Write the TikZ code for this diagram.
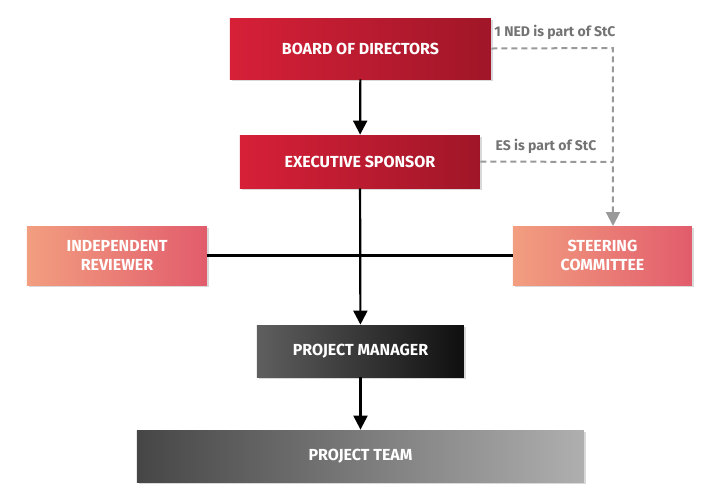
\documentclass[tikz,border=0pt]{standalone}
\usepackage{fontspec}
\setmainfont{Fira Sans}
\usetikzlibrary{shadows,arrows.meta}
\begin{document}
\begin{tikzpicture}[x=0.5pt,y=-0.5pt,
 box/.style={draw=none,minimum width=#1*0.5pt,inner sep=0pt,text=white,font=\fontsize{8}{9.5}\selectfont\bfseries,align=center,
   drop shadow={shadow xshift=0.8pt,shadow yshift=-0.8pt,opacity=0.3}},
 redb/.style={left color={rgb,255:red,214;green,32;blue,56},right color={rgb,255:red,160;green,22;blue,40}},
 salmon/.style={left color={rgb,255:red,242;green,158;blue,128},right color={rgb,255:red,226;green,92;blue,108}},
 dark/.style={left color={rgb,255:red,95;green,95;blue,95},right color={rgb,255:red,15;green,15;blue,15}},
 gray/.style={left color={rgb,255:red,70;green,70;blue,70},right color={rgb,255:red,175;green,175;blue,175}},
 conn/.style={line width=1.1pt,black},
 arr/.style={conn,-{Triangle[length=7pt,width=7pt]}},
 dsh/.style={gray!80,line width=1pt,dash pattern=on 3pt off 2pt},
 lab/.style={text=gray!90!black,font=\fontsize{7}{8}\selectfont\bfseries}]
\useasboundingbox (0,0) rectangle (720,500);
\node[box=261,redb,minimum height=30.5pt] (bod) at (360.5,48.5) {BOARD OF DIRECTORS};
\node[box=240,redb,minimum height=26.5pt] (es) at (360,161.5) {EXECUTIVE SPONSOR};
\node[box=180,salmon,minimum height=29.5pt] (ir) at (117,255.5) {INDEPENDENT\\REVIEWER};
\node[box=179,salmon,minimum height=29.5pt] (sc) at (602.5,255.5) {STEERING\\COMMITTEE};
\node[box=207,dark,minimum height=26pt] (pm) at (360.5,351) {PROJECT MANAGER};
\node[box=447,gray,minimum height=26pt] (pt) at (360.5,456) {PROJECT TEAM};
\coordinate (c1) at (613,48);
\coordinate (c2) at (613,162);
\coordinate (c3) at (613,226);
\draw[conn] (ir.east) -- (sc.west);
\draw[arr] (bod) -- (es);
\draw[arr] (es) -- (pm);
\draw[arr] (pm) -- (pt);
\draw[dsh,-{Triangle[length=7pt,width=7pt]}] (bod.east) -- (c1) -- (c3);
\draw[dsh] (es.east) -- (c2);
\node[lab] (l1) at (555,32) {1 NED is part of StC};
\node[lab] (l2) at (546,146) {ES is part of StC};
\end{tikzpicture}
\end{document}
